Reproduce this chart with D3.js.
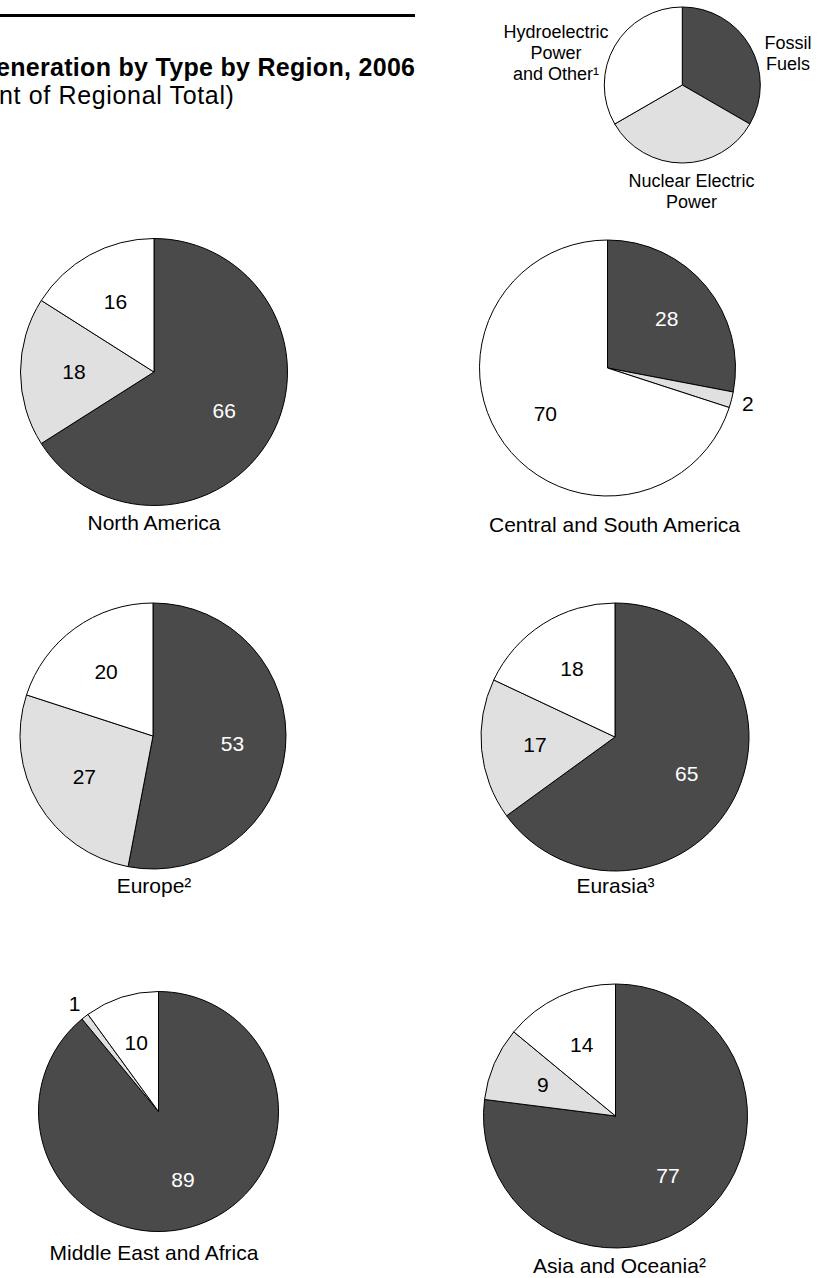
<!DOCTYPE html>
<html>
<head>
<meta charset="utf-8">
<script src="https://cdn.jsdelivr.net/npm/d3@7/dist/d3.min.js"></script>
<style>
  html, body { margin: 0; padding: 0; background: #fff; }
  svg { display: block; font-family: "Liberation Sans", Arial, Helvetica, sans-serif; }
</style>
</head>
<body>
<svg id="chart" width="827" height="1278"></svg>
<script>
// ---- Data ----
const titleText = "Electricity Generation by Type by Region, 2006";
const subtitleText = "(Percent of Regional Total)";
const regions = ["North America", "Central and South America", "Europe²", "Eurasia³", "Middle East and Africa", "Asia and Oceania²"];
const fossil  = [66, 28, 53, 65, 89, 77];
const nuclear = [18,  2, 27, 17,  1,  9];
const hydro   = [16, 70, 20, 18, 10, 14];
const types = ["Fossil Fuels", "Nuclear Electric Power", "Hydroelectric Power and Other¹"];
const legendValues = [1, 1, 1];
const legendLines = [["Fossil", "Fuels"], ["Nuclear Electric", "Power"], ["Hydroelectric", "Power", "and Other¹"]];

// ---- Layout (positions / sizes / styles) ----
const layout = [
  {cx: 154,   cy: 372,    r: 133.5, lx: 154,   ly: 530},
  {cx: 607.5, cy: 368,    r: 128,   lx: 614.5, ly: 531.5},
  {cx: 153,   cy: 736,    r: 133,   lx: 154,   ly: 893},
  {cx: 615,   cy: 737,    r: 134,   lx: 615.5, ly: 893},
  {cx: 158.5, cy: 1111.5, r: 120,   lx: 154,   ly: 1260},
  {cx: 615.5, cy: 1116,   r: 132,   lx: 619.5, ly: 1273}
];
const legendLayout = {cx: 682.3, cy: 85, r: 78};
const fills = ["#4a4a4a", "#e0e0e0", "#ffffff"];
const labelColors = ["#ffffff", "#000000", "#000000"];

const svg = d3.select("#chart");

// Title rule and title
svg.append("line").attr("x1", 0).attr("x2", 415).attr("y1", 15.5).attr("y2", 15.5)
  .attr("stroke", "#000").attr("stroke-width", 3);
svg.append("text").attr("x", 415.3).attr("y", 76).attr("text-anchor", "end")
  .attr("font-size", 25).attr("font-weight", "bold").attr("letter-spacing", "0.3px")
  .attr("fill", "#000").text(titleText);
svg.append("text").attr("x", 234.6).attr("y", 104).attr("text-anchor", "end")
  .attr("font-size", 25).attr("letter-spacing", "0.65px")
  .attr("fill", "#000").text(subtitleText);

const pie = d3.pie().sort(null).value(d => d);
const color = d3.scaleOrdinal().domain(d3.range(3)).range(fills);

// Regional pies
regions.forEach((name, i) => {
  const L = layout[i];
  const vals = [fossil[i], nuclear[i], hydro[i]];
  const arcs = pie(vals);
  const arc = d3.arc().innerRadius(0).outerRadius(L.r);
  const labelArc = d3.arc().innerRadius(L.r * 0.6).outerRadius(L.r * 0.6);
  const outArc = d3.arc().innerRadius(L.r + 17).outerRadius(L.r + 17);
  const g = svg.append("g").attr("transform", `translate(${L.cx},${L.cy})`);
  g.selectAll("path").data(arcs).join("path")
    .attr("d", arc)
    .attr("fill", (d, j) => color(j))
    .attr("stroke", "#000").attr("stroke-width", 1).attr("stroke-linejoin", "round");
  g.selectAll("text.val").data(arcs).join("text").attr("class", "val")
    .attr("transform", d => {
      const c = (d.data < 5 ? outArc : labelArc).centroid(d);
      return `translate(${c[0]},${c[1]})`;
    })
    .attr("text-anchor", "middle").attr("dy", "0.35em")
    .attr("font-size", 21)
    .attr("fill", (d, j) => d.data < 5 ? "#000" : labelColors[j])
    .text(d => d.data);
  svg.append("text").attr("x", L.lx).attr("y", L.ly).attr("text-anchor", "middle")
    .attr("font-size", 21).attr("fill", "#000").text(name);
});

// Legend pie
const LL = legendLayout;
const lg = svg.append("g").attr("transform", `translate(${LL.cx},${LL.cy})`);
const legArcs = pie(legendValues);
lg.selectAll("path").data(legArcs).join("path")
  .attr("d", d3.arc().innerRadius(0).outerRadius(LL.r))
  .attr("fill", (d, j) => color(j))
  .attr("stroke", "#000").attr("stroke-width", 1);

const legendPos = [
  {x: 788, y: 48.5},
  {x: 691.5, y: 186.5},
  {x: 556, y: 37.5}
];
types.forEach((t, j) => {
  const txt = svg.append("text").attr("text-anchor", "middle")
    .attr("font-size", 18).attr("fill", "#000");
  legendLines[j].forEach((line, k) => {
    txt.append("tspan").attr("x", legendPos[j].x).attr("y", legendPos[j].y + k * 21.3).text(line);
  });
});
</script>
</body>
</html>
